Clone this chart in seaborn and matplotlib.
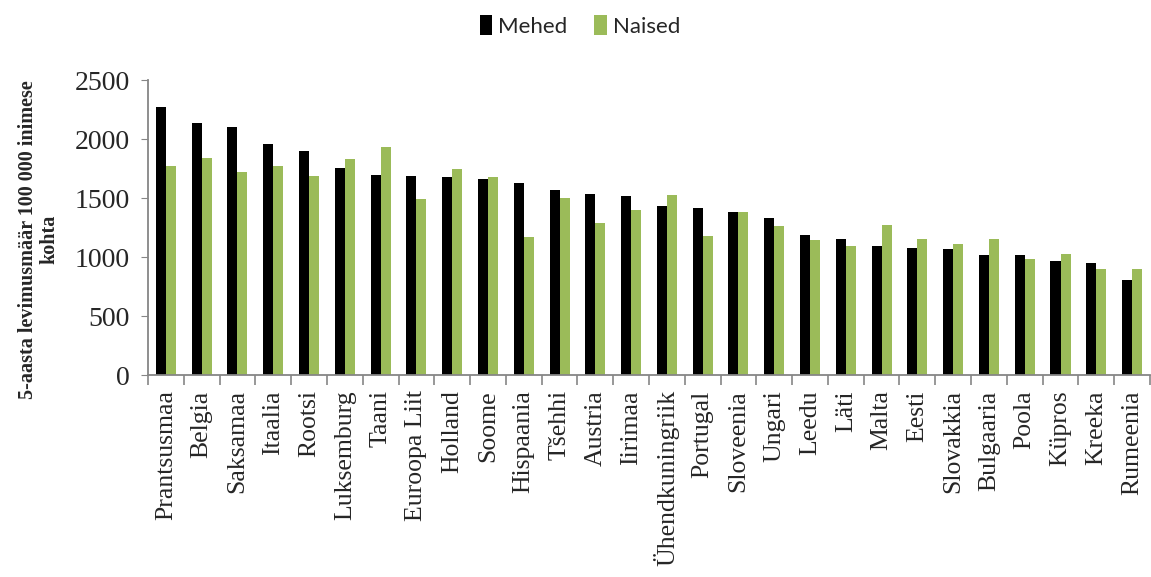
import pandas as pd
import numpy as np
import matplotlib
matplotlib.use('Agg')
import matplotlib.pyplot as plt
import seaborn as sns

# data
countries = ['Prantsusmaa', 'Belgia', 'Saksamaa', 'Itaalia', 'Rootsi', 'Luksemburg',
             'Taani', 'Euroopa Liit', 'Holland', 'Soome', 'Hispaania', 'Tšehhi',
             'Austria', 'Iirimaa', 'Ühendkuningriik', 'Portugal', 'Sloveenia', 'Ungari',
             'Leedu', 'Läti', 'Malta', 'Eesti', 'Slovakkia', 'Bulgaaria', 'Poola',
             'Küpros', 'Kreeka', 'Rumeenia']
mehed = [2270, 2134, 2100, 1959, 1896, 1752, 1692, 1686, 1681, 1664, 1630, 1570,
         1539, 1522, 1434, 1420, 1383, 1335, 1188, 1151, 1097, 1077, 1066, 1020,
         1015, 969, 952, 810]
naised = [1769, 1837, 1724, 1769, 1690, 1834, 1936, 1491, 1749, 1681, 1168, 1497,
          1290, 1397, 1528, 1179, 1386, 1261, 1145, 1094, 1276, 1151, 1108, 1151,
          981, 1029, 896, 896]
series = ['Mehed', 'Naised']
colors = ['#000000', '#9BBB59']

df = pd.DataFrame({'riik': countries * 2,
                   'väärtus': mehed + naised,
                   'sugu': [series[0]] * len(countries) + [series[1]] * len(countries)})

sns.set_style('white')
plt.rcParams['font.family'] = ['Liberation Serif', 'DejaVu Serif']

fig = plt.figure(figsize=(11.51, 5.77), dpi=100)
ax = fig.add_axes([0.1286, 0.35, 0.8705, 0.511])

sns.barplot(data=df, x='riik', y='väärtus', hue='sugu', palette=colors,
            width=0.56, ax=ax, linewidth=0, saturation=1)

ax.set_ylim(0, 2500)
ax.set_xlim(-0.5, len(countries) - 0.5)
ax.set_yticks(np.arange(0, 2501, 500))
ax.tick_params(axis='y', labelsize=20, length=5, color='#868686', pad=8, direction='out', left=True)
ax.tick_params(axis='x', which='major', labelsize=18.5, length=0, pad=11, labelrotation=90)
ax.set_xticks(np.arange(-0.5, len(countries), 1), minor=True)
ax.tick_params(axis='x', which='minor', length=7, color='#868686', width=1.2, direction='out', bottom=True)

for side in ['top', 'right']:
    ax.spines[side].set_visible(False)
for side in ['left', 'bottom']:
    ax.spines[side].set_color('#868686')
    ax.spines[side].set_linewidth(1.3)

ax.set_xlabel('')
ax.set_ylabel('5-aasta levimusmäär 100 000 inimese\nkohta', fontsize=14.5,
              fontweight='bold', linespacing=1.15)
ax.yaxis.set_label_coords(-0.088, 0.46)

handles, labels = ax.get_legend_handles_labels()
ax.get_legend().remove()
fig.legend(handles, labels, loc='center', bbox_to_anchor=(0.504, 0.955), ncol=2,
           frameon=False, prop={'family': 'Lato', 'size': 16}, handlelength=0.55,
           handleheight=1.0, handletextpad=0.3, columnspacing=1.2)

fig.savefig('out.png', dpi=100)
